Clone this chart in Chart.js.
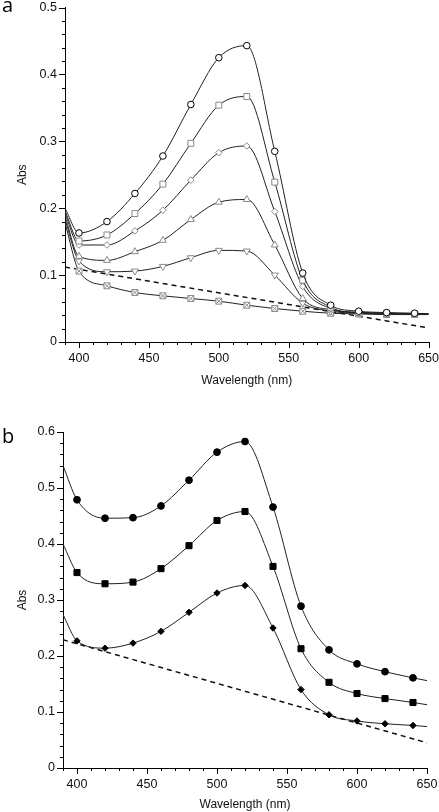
<!DOCTYPE html>
<html>
<head>
<meta charset="utf-8">
<script src="https://cdn.jsdelivr.net/npm/chart.js@4.4.1/dist/chart.umd.min.js"></script>
<style>
  html, body { margin: 0; padding: 0; background: #fff; overflow: hidden; }
  .panel { position: absolute; left: 0; width: 439px; }
  #panelA { top: 0; height: 398px; }
  #panelB { top: 398px; height: 414px; }
</style>
</head>
<body>
<div class="panel" id="panelA"><canvas id="chartA" width="439" height="398"></canvas></div>
<div class="panel" id="panelB"><canvas id="chartB" width="439" height="414"></canvas></div>
<script>
// wavelengths (nm); first and last points carry the curve ends, no marker
const wavelengths = [390, 400, 420, 440, 460, 480, 500, 520, 540, 560, 580, 600, 620, 640, 650];

// panel a
const aCircle   = [0.200, 0.163, 0.180, 0.222, 0.278, 0.355, 0.425, 0.443, 0.285, 0.103, 0.055, 0.046, 0.044, 0.043, 0.042];
const aSquare   = [0.196, 0.151, 0.160, 0.192, 0.236, 0.297, 0.354, 0.367, 0.239, 0.0925, 0.052, 0.044, 0.043, 0.042, 0.042];
const aDiamond  = [0.192, 0.145, 0.145, 0.166, 0.197, 0.242, 0.283, 0.293, 0.195, 0.083, 0.050, 0.044, 0.043, 0.042, 0.042];
const aTriUp    = [0.188, 0.128, 0.122, 0.135, 0.152, 0.183, 0.209, 0.213, 0.145, 0.065, 0.048, 0.044, 0.043, 0.042, 0.042];
const aTriDown  = [0.183, 0.121, 0.105, 0.106, 0.113, 0.126, 0.137, 0.136, 0.100, 0.058, 0.046, 0.043, 0.042, 0.042, 0.042];
const aCrossSq  = [0.178, 0.106, 0.084, 0.074, 0.069, 0.065, 0.061, 0.055, 0.050, 0.046, 0.043, 0.042, 0.041, 0.041, 0.041];
const aDashX = [390, 650];
const aDashY = [0.112, 0.021];

// panel b
const bCircle  = [0.540, 0.479, 0.446, 0.447, 0.468, 0.514, 0.564, 0.583, 0.466, 0.289, 0.211, 0.186, 0.172, 0.161, 0.156];
const bSquare  = [0.400, 0.349, 0.329, 0.332, 0.356, 0.397, 0.442, 0.458, 0.360, 0.213, 0.153, 0.133, 0.124, 0.117, 0.113];
const bDiamond = [0.274, 0.227, 0.214, 0.223, 0.244, 0.278, 0.3125, 0.326, 0.250, 0.140, 0.095, 0.084, 0.079, 0.076, 0.074];
const bDashX = [390, 650];
const bDashY = [0.229, 0.045];

// tick labels
const xMajor = [400, 450, 500, 550, 600, 650];
const yMajorA = [0, 0.1, 0.2, 0.3, 0.4, 0.5];
const yMajorB = [0, 0.1, 0.2, 0.3, 0.4, 0.5, 0.6];

const FONT = "'Liberation Sans', Arial, sans-serif";
const INK = "#111";

function pts(ys) {
    return wavelengths.map((w, i) => ({ x: w, y: ys[i] }));
}

function markerRadius(r) {
    return ctx => (ctx.dataIndex === 0 || ctx.dataIndex === wavelengths.length - 1) ? 0 : r;
}

function curve(ys, style, r, color, fill, extra) {
    return Object.assign({
        data: pts(ys),
        borderColor: "#222",
        borderWidth: 1,
        cubicInterpolationMode: "monotone",
        pointStyle: style,
        pointRadius: markerRadius(r),
        pointBorderColor: color,
        pointBackgroundColor: fill,
        pointBorderWidth: 1
    }, extra || {});
}

function dashed(xs, ys) {
    return {
        data: xs.map((x, i) => ({ x: x, y: ys[i] })),
        borderColor: "#111",
        borderWidth: 1.5,
        borderDash: [5, 4],
        pointRadius: 0
    };
}

// tick marks (short minor, longer major) and the panel letter
function panelPlugin(letter, lx, ly, yMajor) {
    return {
        id: "panel" + letter,
        afterDraw(chart) {
            const { ctx, scales: { x, y } } = chart;
            ctx.save();
            ctx.strokeStyle = "#000";
            ctx.lineWidth = 1;
            ctx.beginPath();
            x.ticks.forEach(t => {
                const px = Math.round(x.getPixelForValue(t.value)) + 0.5;
                const len = xMajor.includes(t.value) ? 6 : 3;
                ctx.moveTo(px, x.top);
                ctx.lineTo(px, x.top + len);
            });
            y.ticks.forEach(t => {
                const py = Math.round(y.getPixelForValue(t.value)) + 0.5;
                const len = isMajor(t.value, 0.1) ? 6 : 3;
                ctx.moveTo(y.right, py);
                ctx.lineTo(y.right - len, py);
            });
            ctx.stroke();
            ctx.fillStyle = "#000";
            ctx.font = "20px 'Open Sans', 'DejaVu Sans', sans-serif";
            ctx.textBaseline = "alphabetic";
            ctx.fillText(letter, lx, ly);
            ctx.restore();
        }
    };
}

function isMajor(v, step) {
    return Math.abs(v / step - Math.round(v / step)) < 1e-6;
}

function makeOptions(yMax, yWidth, xHeight, pad) {
    return {
        responsive: false,
        animation: false,
        layout: { padding: pad },
        plugins: { legend: { display: false }, tooltip: { enabled: false } },
        scales: {
            x: {
                type: "linear",
                min: 390,
                max: 650,
                afterFit: s => { s.height = xHeight; },
                border: { color: "#000", width: 1 },
                grid: { drawOnChartArea: false, tickLength: 9, tickColor: "rgba(0,0,0,0)" },
                ticks: {
                    stepSize: 10,
                    autoSkip: false,
                    maxRotation: 0,
                    padding: 0,
                    color: INK,
                    font: { family: FONT, size: 12.5 },
                    callback: v => xMajor.includes(v) ? String(v) : ""
                },
                title: {
                    display: true,
                    text: "Wavelength (nm)",
                    color: INK,
                    font: { family: FONT, size: 12 },
                    padding: { top: 0, bottom: 0 }
                }
            },
            y: {
                min: 0,
                max: yMax,
                afterFit: s => { s.width = yWidth; },
                border: { color: "#000", width: 1 },
                grid: { drawOnChartArea: false, tickLength: 8, tickColor: "rgba(0,0,0,0)" },
                ticks: {
                    stepSize: 0.02,
                    autoSkip: false,
                    padding: 0,
                    color: INK,
                    font: { family: FONT, size: 12.5 },
                    callback: v => isMajor(v, 0.1) ? (Math.abs(v) < 1e-9 ? "0" : v.toFixed(1)) : ""
                },
                title: {
                    display: true,
                    text: "Abs",
                    color: INK,
                    font: { family: FONT, size: 12 },
                    padding: { top: 15, bottom: 0 }
                }
            }
        }
    };
}

const GREY = "#8a8a8a";

new Chart(document.getElementById("chartA"), {
    type: "line",
    data: {
        datasets: [
            curve(aCircle, "circle", 3.3, "#000", "#fff"),
            curve(aSquare, "rect", 4.2, GREY, "#fff"),
            curve(aDiamond, "rectRot", 3.3, GREY, "#fff"),
            curve(aTriUp, "triangle", 4, GREY, "#fff"),
            curve(aTriDown, "triangle", 4, GREY, "#fff", { pointRotation: 180 }),
            curve(aCrossSq, "crossRot", 4.2, GREY, "#fff", { showLine: false }),
            curve(aCrossSq, "rect", 4.2, GREY, "#fff"),
            dashed(aDashX, aDashY)
        ]
    },
    options: makeOptions(0.5, 65, 46, { top: 7, right: 10, bottom: 10, left: 0 }),
    plugins: [panelPlugin("a", 2, 12, yMajorA)]
});

new Chart(document.getElementById("chartB"), {
    type: "line",
    data: {
        datasets: [
            curve(bCircle, "circle", 3.4, "#000", "#000"),
            curve(bSquare, "rect", 4.3, "#000", "#000"),
            curve(bDiamond, "rectRot", 3.2, "#000", "#000"),
            dashed(bDashX, bDashY)
        ]
    },
    options: makeOptions(0.6, 63, 44, { top: 34, right: 12, bottom: 0, left: 0 }),
    plugins: [panelPlugin("b", 2, 45, yMajorB)]
});
</script>
</body>
</html>
